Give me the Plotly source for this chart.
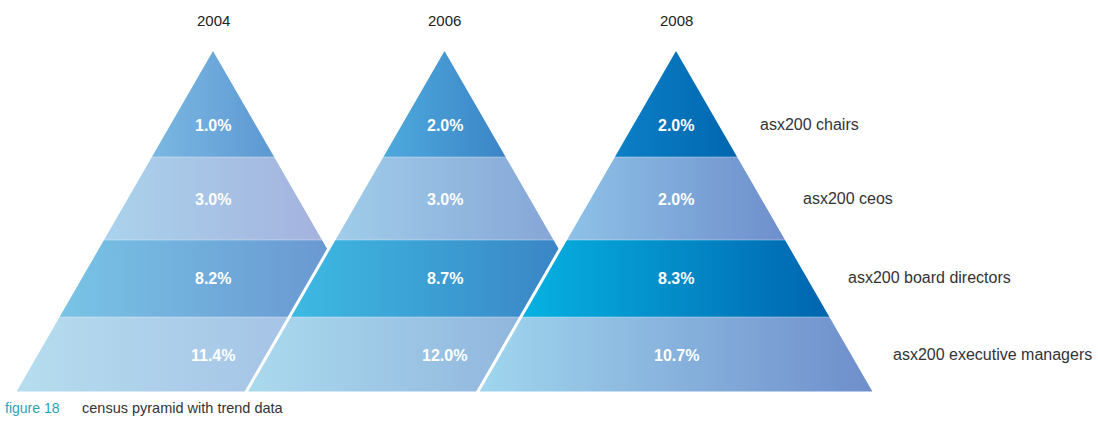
import plotly.graph_objects as go

# ---- data ----
years = ["2004", "2006", "2008"]
categories = ["asx200 chairs", "asx200 ceos", "asx200 board directors", "asx200 executive managers"]
share_2004 = [1.0, 3.0, 8.2, 11.4]
share_2006 = [2.0, 3.0, 8.7, 12.0]
share_2008 = [2.0, 2.0, 8.3, 10.7]
shares = [share_2004, share_2006, share_2008]

# ---- styling (per pyramid, per band: left colour -> right colour) ----
gradients = [
    [("#7cb8e2", "#5c98d2"), ("#aad3ec", "#a4b2de"), ("#78c4e6", "#6892ce"), ("#b6ddef", "#9eb8e2")],
    [("#4eaadd", "#3b84c6"), ("#a0cdea", "#86a6d6"), ("#3cbae2", "#3b7ec2"), ("#aadaee", "#86a6d6")],
    [("#0c80c8", "#0066ae"), ("#8ec2e8", "#6e8ecb"), ("#06b2e2", "#0064ae"), ("#a0d6ee", "#6e8ecb")],
]

APEX_Y, BASE_Y, HALF_W = 48, 393, 199
band_edges = [48, 157, 240, 317, 393]
label_y = [125, 199, 278, 355]
apex_x = [213, 444.5, 676]
FONT = "Liberation Sans, Arial, sans-serif"


def half_width(y):
    return HALF_W * (y - APEX_Y) / (BASE_Y - APEX_Y)


fig = go.Figure()
annotations = []

for p, (cx, year, vals) in enumerate(zip(apex_x, years, shares)):
    for b in range(4):
        yt, yb = band_edges[b], band_edges[b + 1]
        wt, wb = half_width(yt), half_width(yb)
        xs = [cx - wt, cx + wt, cx + wb, cx - wb, cx - wt]
        ys = [yt, yt, yb, yb, yt]
        c0, c1 = gradients[p][b]
        fig.add_trace(go.Scatter(
            x=xs, y=ys, mode="lines", fill="toself",
            line=dict(width=0, color=c1),
            fillcolor=c0,
            fillgradient=dict(type="horizontal", colorscale=[[0, c0], [1, c1]]),
            hoverinfo="skip", showlegend=False,
        ))
        if b > 0:
            fig.add_trace(go.Scatter(
                x=[cx - wt, cx + wt], y=[yt, yt], mode="lines",
                line=dict(width=1, color="rgba(255,255,255,0.35)"),
                hoverinfo="skip", showlegend=False,
            ))
        annotations.append(dict(
            x=cx, y=label_y[b], xref="x", yref="y", text=f"<b>{vals[b]:.1f}%</b>",
            showarrow=False, font=dict(family=FONT, size=16, color="white"),
        ))
    # white outline around the pyramid
    fig.add_trace(go.Scatter(
        x=[cx, cx + HALF_W, cx - HALF_W, cx], y=[APEX_Y, BASE_Y, BASE_Y, APEX_Y],
        mode="lines", line=dict(width=3, color="white"),
        hoverinfo="skip", showlegend=False,
    ))
    annotations.append(dict(
        x=cx, y=20, xref="x", yref="y", text=year, showarrow=False,
        font=dict(family=FONT, size=15, color="#222222"),
    ))

# category labels to the right of the last pyramid
for b, cat in enumerate(categories):
    y = label_y[b] - 1
    x = apex_x[-1] + half_width(y) + 38
    annotations.append(dict(
        x=x, y=y, xref="x", yref="y", text=cat, showarrow=False, xanchor="left",
        font=dict(family=FONT, size=16, color="#333333"),
    ))

annotations.append(dict(
    x=3, y=408, xref="x", yref="y", xanchor="left", showarrow=False,
    text="<span style='color:#2aa3b3'>figure 18</span>", font=dict(family=FONT, size=14),
))
annotations.append(dict(
    x=80, y=408, xref="x", yref="y", xanchor="left", showarrow=False,
    text="census pyramid with trend data", font=dict(family=FONT, size=14.5, color="#333333"),
))

fig.update_layout(
    width=1098, height=425,
    margin=dict(l=0, r=0, t=0, b=0),
    paper_bgcolor="white", plot_bgcolor="white",
    xaxis=dict(range=[0, 1098], visible=False, fixedrange=True),
    yaxis=dict(range=[425, 0], visible=False, fixedrange=True),
    annotations=annotations,
    showlegend=False,
)

fig.write_html("out.html")
